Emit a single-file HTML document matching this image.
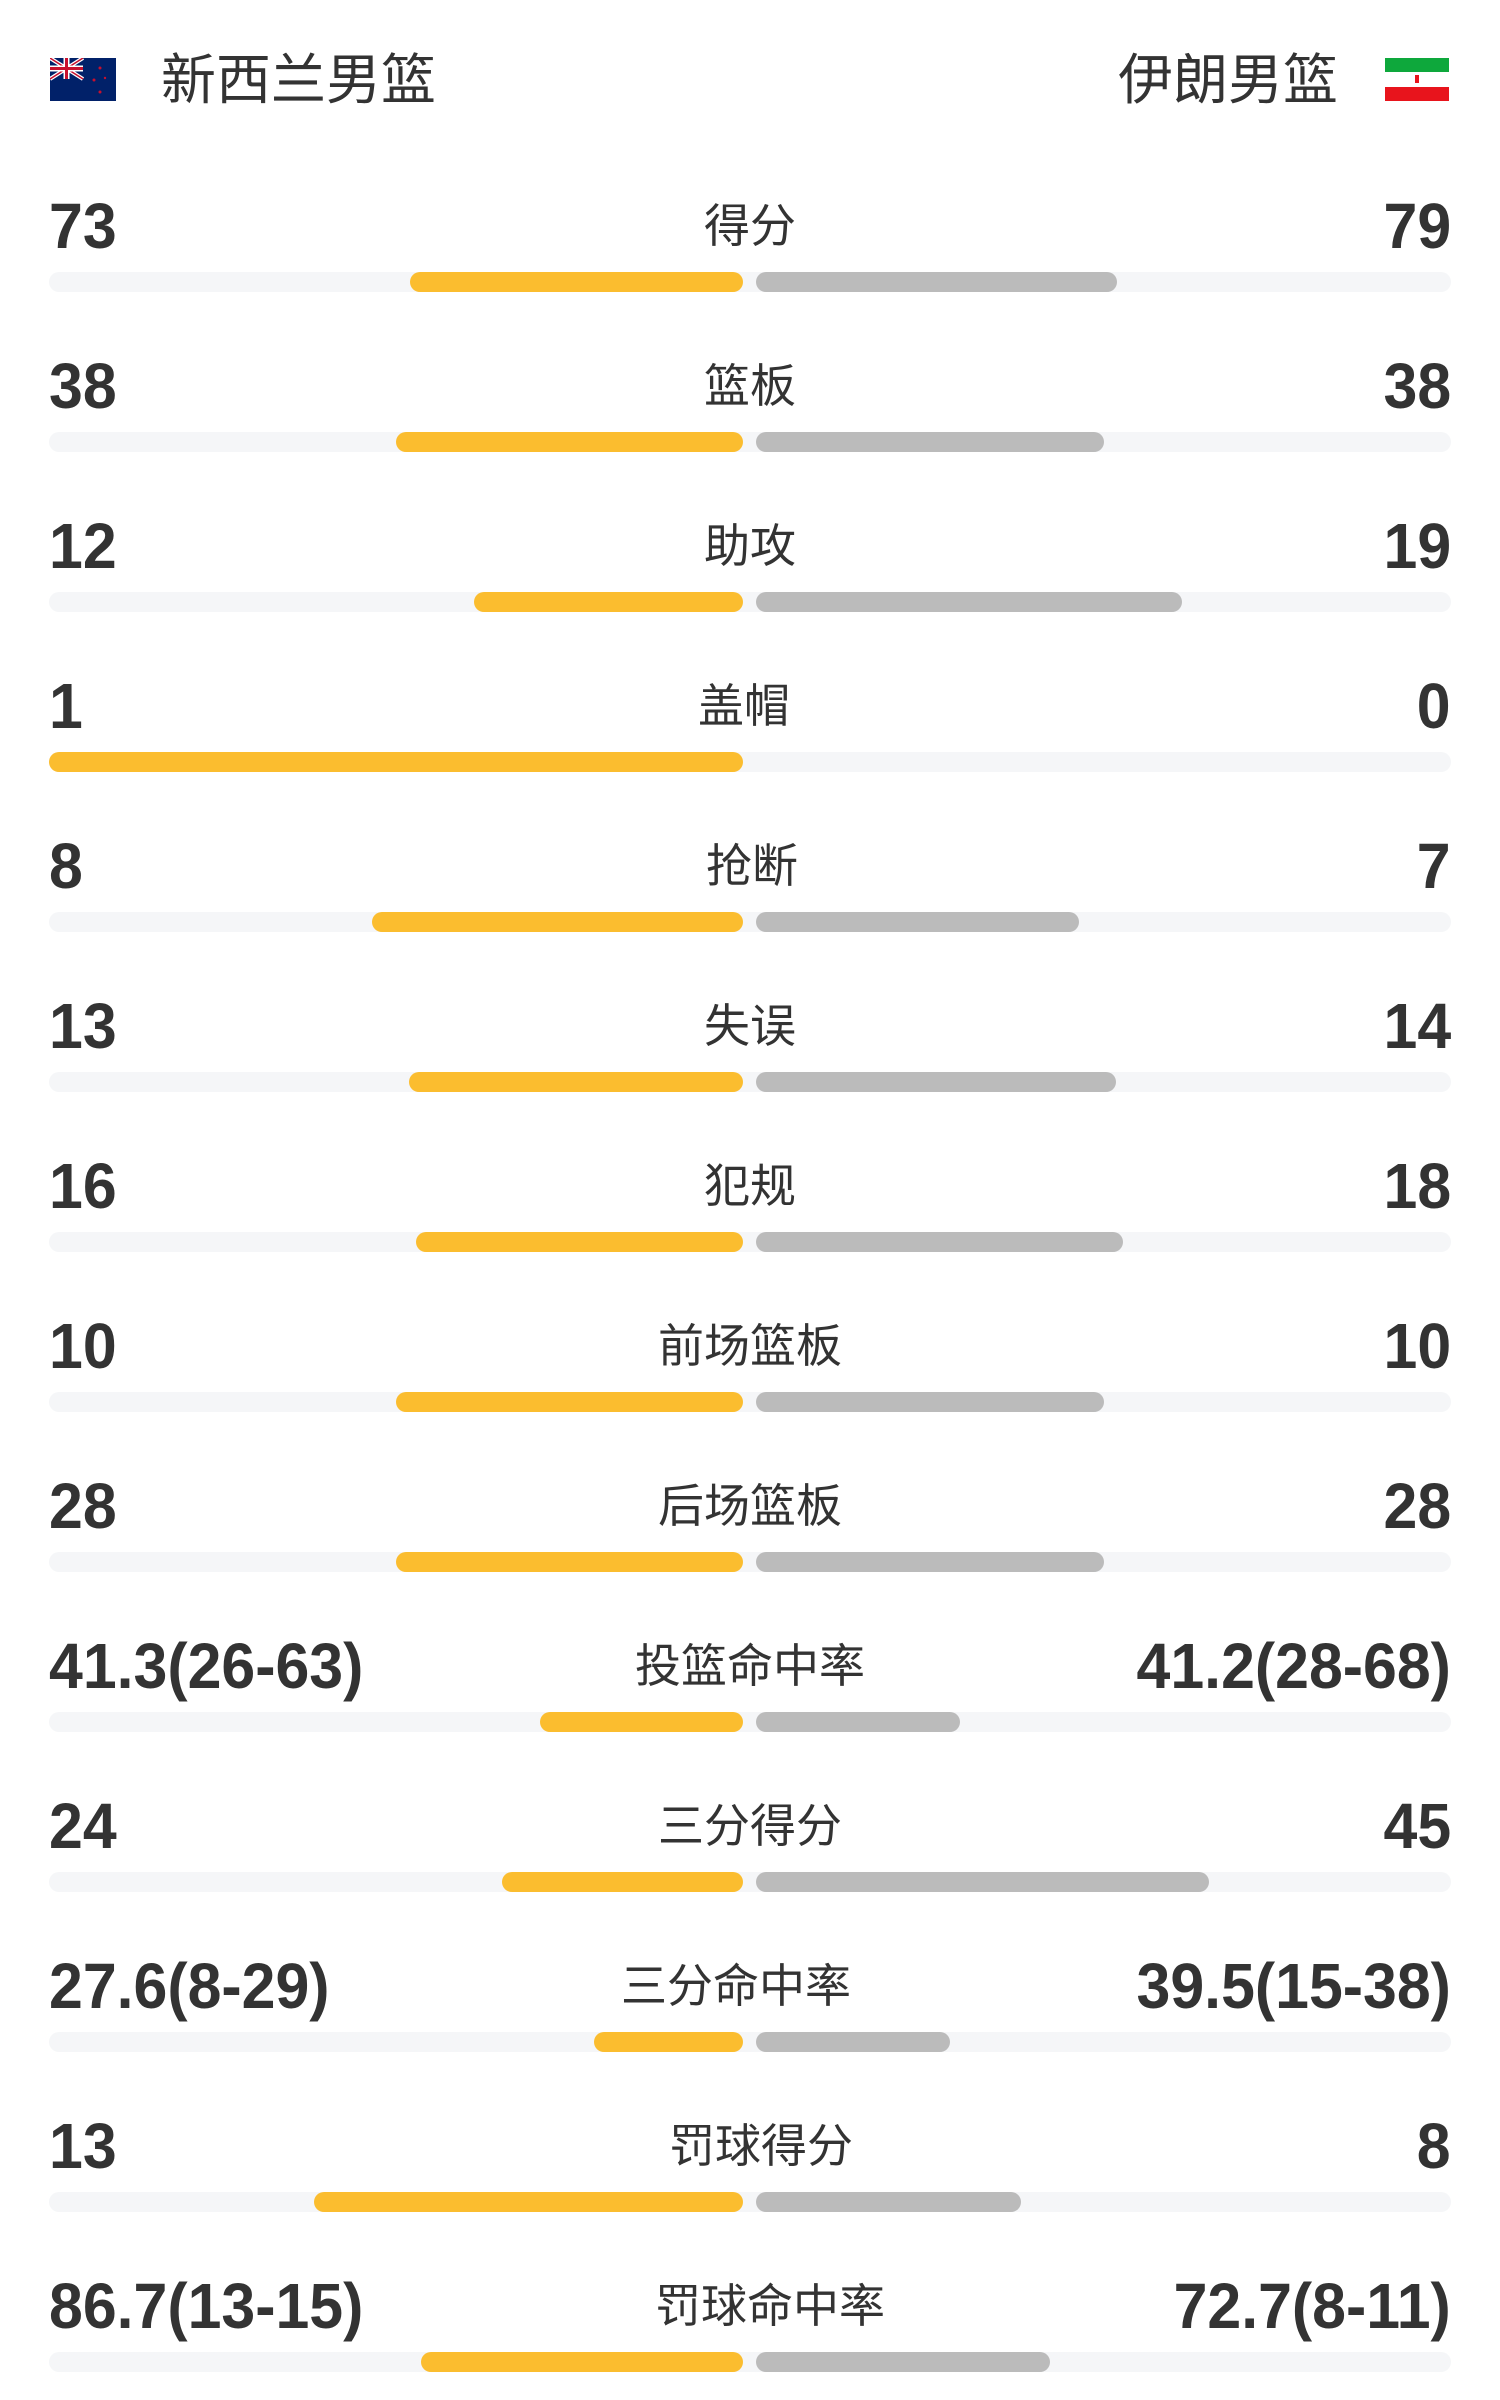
<!DOCTYPE html>
<html><head><meta charset="utf-8">
<style>
body{margin:0;width:1500px;height:2400px;background:#fff;position:relative;overflow:hidden;font-family:"Liberation Sans","Noto Sans CJK SC",sans-serif;color:#333}
.a{position:absolute}
.num{position:absolute;font-weight:bold;font-size:64px;line-height:64px;white-space:nowrap;color:#333}
.l{left:49px;transform:scaleX(0.95);transform-origin:left center}
.r{right:49px;transform:scaleX(0.95);transform-origin:right center}
.lab{position:absolute;width:600px;text-align:center;font-size:46px;line-height:64px;color:#333}
.tr{position:absolute;left:49px;width:1402px;height:20px;border-radius:10px;background:#f5f6f8}
.o{position:absolute;height:20px;border-radius:10px;background:#fbbd2f}
.g{position:absolute;height:20px;border-radius:10px;background:#bbbbbb}
.team{position:absolute;top:48px;font-size:55px;line-height:64px;color:#333}
</style></head><body>
<svg class="a" style="left:50px;top:58px" width="66" height="43" viewBox="0 0 66 43">
<rect width="66" height="43" fill="#012169"/>
<path d="M0 0L33 21M33 0L0 21" stroke="#fff" stroke-width="4"/>
<path d="M0 0L33 21M33 0L0 21" stroke="#c8102e" stroke-width="1.5"/>
<path d="M16.5 0V21M0 10.5H33" stroke="#fff" stroke-width="6"/>
<path d="M16.5 0V21M0 10.5H33" stroke="#c8102e" stroke-width="3"/>
<circle cx="50" cy="10" r="1.5" fill="#c8102e"/><circle cx="44" cy="22" r="1.5" fill="#c8102e"/><circle cx="55" cy="20" r="1.2" fill="#c8102e"/><circle cx="50" cy="34" r="1.5" fill="#c8102e"/>
</svg>
<div class="team" style="left:161px">新西兰男篮</div>
<div class="team" style="right:162px">伊朗男篮</div>
<svg class="a" style="left:1385px;top:58px" width="64" height="43" viewBox="0 0 64 43">
<rect width="64" height="14" fill="#0ea83c"/><rect y="14" width="64" height="15" fill="#fff"/><rect y="29" width="64" height="14" fill="#e8141c"/>
<rect x="30" y="17" width="4" height="8" fill="#e8141c"/>
</svg>

<div id="rows"></div>
<script>
var d=[
["73","得分","79",410,1117,0],
["38","篮板","38",396,1104,0],
["12","助攻","19",474,1182,0],
["1","盖帽","0",49,0,-6],
["8","抢断","7",372,1079,2],
["13","失误","14",409,1116,0],
["16","犯规","18",416,1123,0],
["10","前场篮板","10",396,1104,0],
["28","后场篮板","28",396,1104,0],
["41.3(26-63)","投篮命中率","41.2(28-68)",540,960,0],
["24","三分得分","45",502,1209,0],
["27.6(8-29)","三分命中率","39.5(15-38)",594,950,-14],
["13","罚球得分","8",314,1021,11],
["86.7(13-15)","罚球命中率","72.7(8-11)",421,1050,20]];
var h="";
d.forEach(function(r,i){
var cy=226+160*i, bt=272+160*i;
h+='<div class="num l" style="top:'+(cy-32)+'px">'+r[0]+'</div>';
h+='<div class="lab" style="left:'+(450+r[5])+'px;top:'+(cy-32)+'px">'+r[1]+'</div>';
h+='<div class="num r" style="top:'+(cy-32)+'px">'+r[2]+'</div>';
h+='<div class="tr" style="top:'+bt+'px"></div>';
h+='<div class="o" style="top:'+bt+'px;left:'+r[3]+'px;width:'+(743-r[3])+'px"></div>';
if(r[4]>0)h+='<div class="g" style="top:'+bt+'px;left:756px;width:'+(r[4]-756)+'px"></div>';
});
document.getElementById("rows").innerHTML=h;
</script>
</body></html>
